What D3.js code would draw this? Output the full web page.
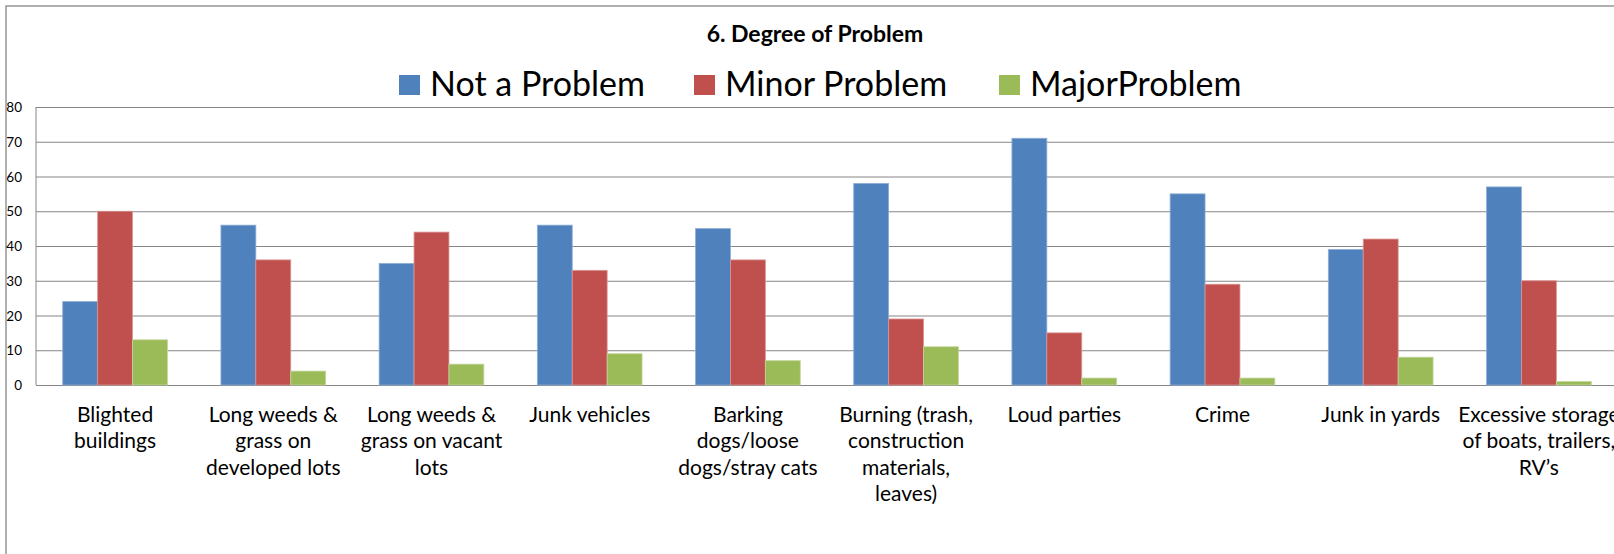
<!DOCTYPE html>
<html>
<head>
<meta charset="utf-8">
<script src="https://cdn.jsdelivr.net/npm/d3@7"></script>
<style>
  body { margin: 0; background: #fff; overflow: hidden; }
  text { font-family: Lato, "Open Sans", sans-serif; fill: #000; }
</style>
</head>
<body>
<div id="chart"></div>
<script>
const categories = [
  "Blighted buildings",
  "Long weeds & grass on developed lots",
  "Long weeds & grass on vacant lots",
  "Junk vehicles",
  "Barking dogs/loose dogs/stray cats",
  "Burning (trash, construction materials, leaves)",
  "Loud parties",
  "Crime",
  "Junk in yards",
  "Excessive storage of boats, trailers, RV’s"
];

// tick labels as they wrap under each group
const categoryLines = [
  ["Blighted", "buildings"],
  ["Long weeds &", "grass on", "developed lots"],
  ["Long weeds &", "grass on vacant", "lots"],
  ["Junk vehicles"],
  ["Barking", "dogs/loose", "dogs/stray cats"],
  ["Burning (trash,", "construction", "materials,", "leaves)"],
  ["Loud parties"],
  ["Crime"],
  ["Junk in yards"],
  ["Excessive storage", "of boats, trailers,", "RV’s"]
];

const seriesNames = ["Not a Problem", "Minor Problem", "MajorProblem"];
const notAProblem = [24, 46, 35, 46, 45, 58, 71, 55, 39, 57];
const minorProblem = [50, 36, 44, 33, 36, 19, 15, 29, 42, 30];
const majorProblem = [13, 4, 6, 9, 7, 11, 2, 2, 8, 1];
const yTicks = [0, 10, 20, 30, 40, 50, 60, 70, 80];

const colors = ["#4F81BD", "#C0504D", "#9BBB59"];
const edges = ["#8EAED6", "#DA9694", "#C3D69B"];

const W = 1614, H = 554;
const plot = { left: 36, top: 107, bottom: 385, step: 158.2 };

function buildRows() {
  const all = [notAProblem, minorProblem, majorProblem];
  return categories.map((c, i) => ({
    category: c,
    values: seriesNames.map((s, k) => ({ series: s, k: k, value: all[k][i] }))
  }));
}

function createScales() {
  const x0 = d3
    .scaleBand()
    .domain(categories)
    .range([plot.left, plot.left + plot.step * categories.length])
    .paddingInner(0.338)
    .paddingOuter(0.169);

  const x1 = d3.scaleBand().domain(seriesNames).range([0, x0.bandwidth()]);

  const y = d3.scaleLinear().domain([0, 80]).range([plot.bottom, plot.top]);

  return { x0, x1, y };
}

function createSvg() {
  return d3
    .select("#chart")
    .append("svg")
    .attr("width", W)
    .attr("height", H);
}

function drawFrame(svg) {
  svg
    .append("rect")
    .attr("x", 6)
    .attr("y", 6)
    .attr("width", 1640)
    .attr("height", 600)
    .attr("fill", "#fff")
    .attr("stroke", "#868686")
    .attr("stroke-width", 1.3);
}

function addAxes(svg, x0, y) {
  const right = x0.range()[1];

  const yAxis = d3
    .axisLeft(y)
    .tickValues(yTicks)
    .tickSize(-(right - plot.left))
    .tickPadding(14);

  const g = svg
    .append("g")
    .attr("transform", `translate(${plot.left},0)`)
    .call(yAxis);
  g.select(".domain").remove();
  g.selectAll(".tick line").attr("stroke", "#868686").attr("stroke-width", 1);
  g.selectAll(".tick text")
    .style("font-size", "13.5px")
    .attr("dy", "0.35em");

  // left border of the plot area
  svg
    .append("line")
    .attr("x1", plot.left)
    .attr("x2", plot.left)
    .attr("y1", plot.top)
    .attr("y2", plot.bottom)
    .attr("stroke", "#868686");
}

function drawBars(svg, rows, x0, x1, y) {
  const groups = svg
    .selectAll(".group")
    .data(rows)
    .enter()
    .append("g")
    .attr("class", "group")
    .attr("transform", (d) => `translate(${x0(d.category)},0)`);

  groups
    .selectAll("rect")
    .data((d) => d.values)
    .enter()
    .append("rect")
    .attr("x", (d) => x1(d.series))
    .attr("y", (d) => y(d.value))
    .attr("width", x1.bandwidth())
    .attr("height", (d) => y(0) - y(d.value))
    .attr("fill", (d) => colors[d.k])
    .attr("stroke", (d) => edges[d.k])
    .attr("stroke-width", 0.8);
}

function addCategoryLabels(svg, x0) {
  const labels = svg
    .selectAll(".cat")
    .data(categories)
    .enter()
    .append("text")
    .attr("class", "cat")
    .attr("text-anchor", "middle")
    .style("font-size", "21px");

  labels
    .selectAll("tspan")
    .data((d, i) => categoryLines[i].map((t) => ({ t, c: d })))
    .enter()
    .append("tspan")
    .attr("x", (d) => x0(d.c) + x0.bandwidth() / 2)
    .attr("y", (d, j) => 421.5 + j * 26.5)
    .text((d) => d.t);
}

function addTitle(svg) {
  svg
    .append("text")
    .attr("x", 815)
    .attr("y", 42)
    .attr("text-anchor", "middle")
    .style("font-size", "23px")
    .style("font-weight", "bold")
    .text("6. Degree of Problem");
}

function addLegend(svg) {
  const xs = [399, 694, 999];
  const items = svg
    .selectAll(".legend")
    .data(seriesNames)
    .enter()
    .append("g")
    .attr("class", "legend")
    .attr("transform", (d, i) => `translate(${xs[i]},75)`);

  items
    .append("rect")
    .attr("width", 21)
    .attr("height", 20)
    .attr("fill", (d, i) => colors[i]);

  items
    .append("text")
    .attr("x", 31)
    .attr("y", 20.5)
    .style("font-size", "34px")
    .text((d) => d);
}

const rows = buildRows();
const { x0, x1, y } = createScales();
const svg = createSvg();
drawFrame(svg);
addAxes(svg, x0, y);
drawBars(svg, rows, x0, x1, y);
addCategoryLabels(svg, x0);
addTitle(svg);
addLegend(svg);
</script>
</body>
</html>
